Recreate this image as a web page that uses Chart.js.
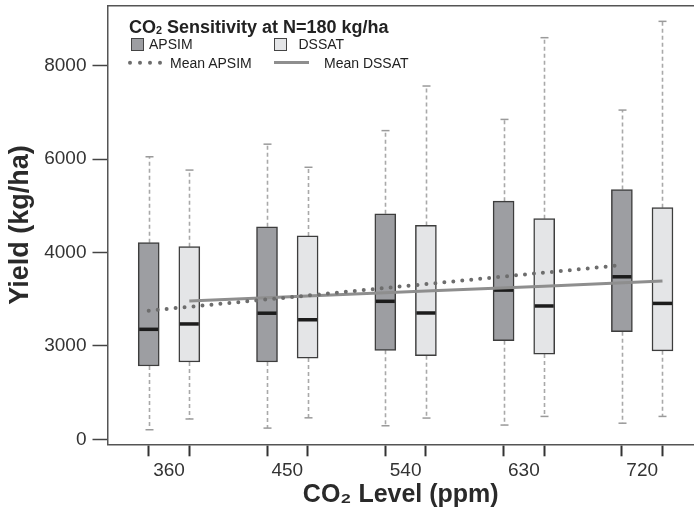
<!DOCTYPE html>
<html>
<head>
<meta charset="utf-8">
<script src="https://cdn.jsdelivr.net/npm/chart.js@4.4.1/dist/chart.umd.min.js"></script>
<style>
  html, body { margin: 0; padding: 0; background: #fff; overflow: hidden; }
  #wrap { position: relative; width: 694px; height: 512px; }
  #leyenda { position: absolute; left: 0; top: 0; font-family: "Liberation Sans", Arial, sans-serif; color: #222; }
  #leyenda .t { position: absolute; white-space: nowrap; }
  #leyenda .sw { position: absolute; width: 13px; height: 13px; box-sizing: border-box; border: 1.5px solid #444; }
  #leyenda sub { font-size: 0.6em; vertical-align: baseline; position: relative; top: 0.1em; }
</style>
</head>
<body>
<div id="wrap">
  <canvas id="grafico" width="694" height="512"></canvas>
  <div id="leyenda">
    <span class="t" style="left:129px;top:17.5px;font-size:18px;line-height:18px;font-weight:bold;">CO<sub>2</sub> Sensitivity at N=180 kg/ha</span>
    <span class="sw" style="left:131px;top:38px;background:#9d9ea2;"></span>
    <span class="t" style="left:149px;top:37.3px;font-size:14px;line-height:14px;">APSIM</span>
    <span class="sw" style="left:274px;top:38px;background:#e4e5e7;"></span>
    <span class="t" style="left:298.5px;top:37.3px;font-size:14px;line-height:14px;">DSSAT</span>
    <svg style="position:absolute;left:126px;top:58px;" width="40" height="10"><g fill="#6d6d6d"><circle cx="4" cy="4.7" r="2"/><circle cx="14" cy="4.7" r="2"/><circle cx="24" cy="4.7" r="2"/><circle cx="34" cy="4.7" r="2"/></g></svg>
    <span class="t" style="left:170px;top:56px;font-size:14px;line-height:14px;">Mean APSIM</span>
    <span style="position:absolute;left:274px;top:60.5px;width:35px;height:3px;background:#8e8e8e;"></span>
    <span class="t" style="left:324px;top:56px;font-size:14px;line-height:14px;">Mean DSSAT</span>
  </div>
</div>
<script>
// Datos (kg/ha)
var nivelesCO2 = ['360', '450', '540', '630', '720'];

var apsimMax = [6050, 6320, 6610, 6850, 7050];
var apsimQ3 = [4210, 4550, 4830, 5100, 5350];
var apsimMediana = [2355, 2700, 2955, 3195, 3480];
var apsimQ1 = [1570, 1655, 1905, 2110, 2305];
var apsimMin = [205, 240, 290, 305, 345];

var dssatMax = [5765, 5825, 7565, 8600, 8950];
var dssatQ3 = [4125, 4355, 4580, 4725, 4960];
var dssatMediana = [2470, 2560, 2705, 2855, 2910];
var dssatQ1 = [1655, 1740, 1790, 1825, 1895];
var dssatMin = [435, 460, 455, 490, 490];

var mediaApsim = [2755, 2995, 3240, 3485, 3730];
var mediaDssat = [2960, 3070, 3175, 3280, 3390];

var yTicks = [0, 2000, 4000, 6000, 8000];
var yTickLabels = ['0', '3000', '4000', '6000', '8000'];

(function () {
  var FUENTE = '"Liberation Sans", Arial, sans-serif';
  var DESFASE = 0.1716; // separación de cada caja respecto al centro del grupo

  function posApsim(i) { return i - DESFASE; }
  function posDssat(i) { return i + DESFASE; }
  var xApsim = nivelesCO2.map(function (_, i) { return posApsim(i); });
  var xDssat = nivelesCO2.map(function (_, i) { return posDssat(i); });
  var xCajas = [];
  nivelesCO2.forEach(function (_, i) { xCajas.push(posApsim(i), posDssat(i)); });
  var xGrupos = nivelesCO2.map(function (_, i) { return i; });

  function puntosCaja(xs, q1, q3) { return xs.map(function (x, i) { return { x: x, y: [q1[i], q3[i]] }; }); }
  function puntosLinea(xs, ys) { return xs.map(function (x, i) { return { x: x, y: ys[i] }; }); }
  function sinRelleno(s) { s.paddingTop = 0; s.paddingBottom = 0; s.paddingLeft = 0; s.paddingRight = 0; }

  // bigotes, tapas, medianas y borde superior
  var cajas = {
    id: 'cajas',
    beforeDatasetsDraw: function (chart) {
      var ctx = chart.ctx, xs = chart.scales.x, ys = chart.scales.y;
      chart.data.datasets.forEach(function (ds) {
        if (!ds.bigotes) return;
        var b = ds.bigotes;
        b.pos.forEach(function (p, i) {
          var px = Math.round(xs.getPixelForValue(p)) + 0.5;
          var tramos = [[b.q3[i], b.max[i]], [b.q1[i], b.min[i]]];
          tramos.forEach(function (t) {
            var y0 = ys.getPixelForValue(t[0]), y1 = ys.getPixelForValue(t[1]);
            ctx.save();
            ctx.strokeStyle = '#a9a9a9'; ctx.lineWidth = 1.6; ctx.setLineDash([4, 3]);
            ctx.beginPath(); ctx.moveTo(px, y0); ctx.lineTo(px, y1); ctx.stroke();
            ctx.setLineDash([]); ctx.strokeStyle = '#9a9a9a'; ctx.lineWidth = 1.5;
            ctx.beginPath(); ctx.moveTo(px - 4, y1); ctx.lineTo(px + 4, y1); ctx.stroke();
            ctx.restore();
          });
        });
      });
    },
    afterDatasetDraw: function (chart, args) {
      var ds = chart.data.datasets[args.index];
      if (!ds.bigotes) return;
      var ctx = chart.ctx, ys = chart.scales.y;
      args.meta.data.forEach(function (el, i) {
        var y = ys.getPixelForValue(ds.bigotes.med[i]);
        ctx.save();
        ctx.strokeStyle = '#1c1c1c'; ctx.lineWidth = 3.5;
        ctx.beginPath(); ctx.moveTo(el.x - el.width / 2 + 1, y); ctx.lineTo(el.x + el.width / 2 - 1, y); ctx.stroke();
        ctx.restore();
      });
    },
    afterDraw: function (chart) {
      var ctx = chart.ctx, a = chart.chartArea;
      ctx.save();
      ctx.strokeStyle = '#555'; ctx.lineWidth = 1.5;
      ctx.beginPath(); ctx.moveTo(a.left, a.top); ctx.lineTo(a.right, a.top); ctx.stroke();
      ctx.restore();
    }
  };

  var canvas = document.getElementById('grafico');
  new Chart(canvas.getContext('2d'), {
    type: 'bar',
    data: {
      datasets: [
        { type: 'line', label: 'Mean APSIM', data: puntosLinea(xApsim, mediaApsim), borderColor: '#6d6d6d', borderWidth: 4, borderDash: [0, 9], borderCapStyle: 'round', pointRadius: 0, fill: false, order: 0 },
        { type: 'line', label: 'Mean DSSAT', data: puntosLinea(xDssat, mediaDssat), borderColor: '#8e8e8e', borderWidth: 3, pointRadius: 0, fill: false, order: 0 },
        { label: 'APSIM', data: puntosCaja(xApsim, apsimQ1, apsimQ3), backgroundColor: '#9d9ea2', borderColor: '#3d3d3d', borderWidth: 1.5, borderSkipped: false, barThickness: 21, grouped: false, order: 1,
          bigotes: { pos: xApsim, max: apsimMax, q3: apsimQ3, q1: apsimQ1, min: apsimMin, med: apsimMediana } },
        { label: 'DSSAT', data: puntosCaja(xDssat, dssatQ1, dssatQ3), backgroundColor: '#e4e5e7', borderColor: '#3d3d3d', borderWidth: 1.5, borderSkipped: false, barThickness: 21, grouped: false, order: 1,
          bigotes: { pos: xDssat, max: dssatMax, q3: dssatQ3, q1: dssatQ1, min: dssatMin, med: dssatMediana } }
      ]
    },
    options: {
      responsive: false, animation: false,
      layout: { padding: { top: 5.7, right: 0, left: 0, bottom: 0 } },
      plugins: { legend: { display: false }, tooltip: { enabled: false } },
      scales: {
        x: {
          type: 'linear', position: 'bottom', weight: 0, min: -0.52, max: 4.438, offset: false,
          afterBuildTicks: function (s) { s.ticks = xCajas.map(function (v) { return { value: v }; }); },
          afterFit: function (s) { s.height = 13; sinRelleno(s); },
          grid: { offset: false, drawOnChartArea: false, drawTicks: true, tickLength: 12, tickColor: '#333', tickWidth: 2 },
          border: { display: true, color: '#555', width: 1.5 },
          ticks: { autoSkip: false, padding: 0, callback: function () { return ''; } }
        },
        xl: {
          type: 'linear', position: 'bottom', weight: 1, min: -0.52, max: 4.438, offset: false,
          afterBuildTicks: function (s) { s.ticks = xGrupos.map(function (v) { return { value: v }; }); },
          afterFit: function (s) { s.height = 54.7; sinRelleno(s); },
          grid: { offset: false, display: false, drawTicks: false },
          border: { display: false },
          ticks: { autoSkip: false, maxRotation: 0, padding: 2, color: '#333', font: { size: 19, family: FUENTE },
            callback: function (v, i) { return nivelesCO2[i]; } },
          title: { display: true, text: 'CO\u2082 Level (ppm)', color: '#2a2a2a', font: { size: 25, weight: 'bold', family: FUENTE }, padding: { top: 0, bottom: 2 } }
        },
        y: {
          min: -107, max: 9285,
          afterBuildTicks: function (s) { s.ticks = yTicks.map(function (v) { return { value: v }; }); },
          afterFit: function (s) { s.width = 107.5; sinRelleno(s); },
          grid: { drawOnChartArea: false, drawTicks: true, tickLength: 15, tickColor: '#444', tickWidth: 1.5 },
          border: { display: true, color: '#555', width: 1.5 },
          ticks: { padding: 6, color: '#333', font: { size: 19, family: FUENTE },
            callback: function (v, i) { return yTickLabels[i]; } },
          title: { display: true, text: 'Yield (kg/ha)', color: '#2a2a2a', font: { size: 27, weight: 'bold', family: FUENTE }, padding: { top: 4.8, bottom: 0 } }
        }
      }
    },
    plugins: [cajas]
  });
})();
</script>
</body>
</html>
